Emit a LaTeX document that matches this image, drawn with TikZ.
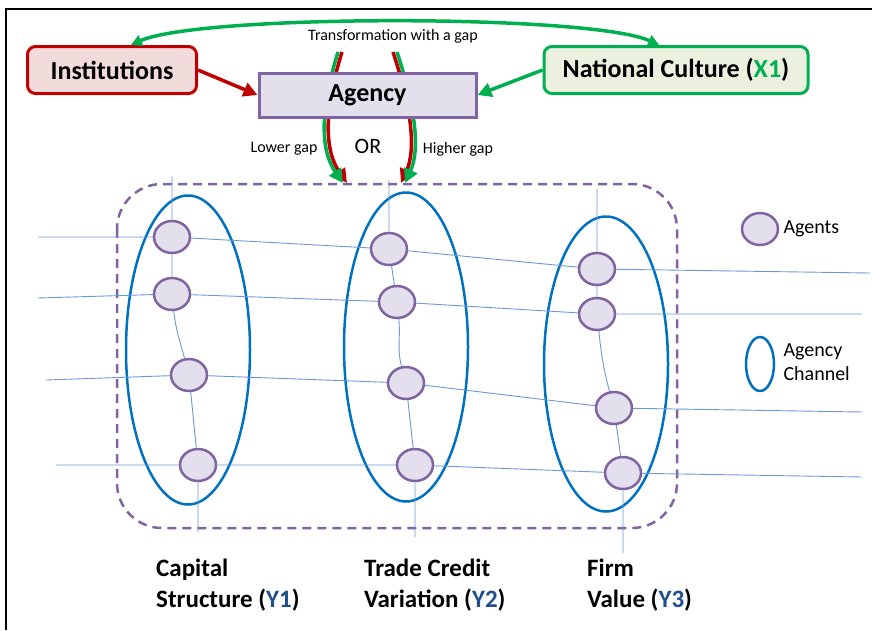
\documentclass[tikz,border=0pt]{standalone}
\usepackage{fontspec}
\setmainfont{Carlito}
\usetikzlibrary{shapes.geometric,arrows.meta}
\definecolor{instred}{HTML}{C00000}
\definecolor{instfill}{HTML}{F2DCDB}
\definecolor{cultgreen}{HTML}{00B050}
\definecolor{cultfill}{HTML}{EBF1DE}
\definecolor{agentline}{HTML}{8064A2}
\definecolor{agentfill}{HTML}{E4DFEC}
\definecolor{chanblue}{HTML}{0070C0}
\definecolor{thinblue}{HTML}{6A9AD6}
\definecolor{ylabel}{HTML}{1F4E8C}
\def \bigfont {\fontsize{26}{30}\selectfont\bfseries}
\def \smallfont {\fontsize{16}{19}\selectfont}
\tikzset{
  agent/.style={ellipse, draw=agentline, fill=agentfill, line width=2.5,
    minimum width=36, minimum height=32, inner sep=0},
  channel/.style={ellipse, draw=chanblue, line width=2.5,
    minimum width=124, minimum height=309, inner sep=0},
  thinline/.style={thinblue, line width=0.9},
  fatarrow/.style={line width=3.5, -{Triangle[length=14,width=14]}},
  bottomlabel/.style={anchor=north west, inner sep=0, align=left,
    font=\fontsize{25}{31}\selectfont\bfseries}
}

\begin{document}
\begin{tikzpicture}[x=1pt,y=-1pt]
\useasboundingbox (0,0) rectangle (872,630);
% Draw the outside frame
\draw[line width=2.5] (6,630) -- (6,9) -- (872,9);

% Draw the dashed box round the channels
\draw[agentline, line width=2.5, dash pattern=on 9 off 6, rounded corners=45]
  (117,184) rectangle (677,528);

% Draw the agency channels
\node[channel] (ch1) at (188,350) {};
\node[channel] (ch2) at (406,347) {};
\node[channel, minimum height=295] (ch3) at (606,364) {};

% Draw the agents, column by column
\foreach \n/\p in {c1r1/{172,237}, c1r2/{172,294}, c1r3/{189,375}, c1r4/{198,465},
                   c2r1/{389,249}, c2r2/{397,302}, c2r3/{406,383}, c2r4/{415,465},
                   c3r1/{597,269}, c3r2/{597,314}, c3r3/{614,408}, c3r4/{623,473}}
  \node[agent] (\n) at (\p) {};

% Free ends of the thin lines
\coordinate (l1) at (38,237);  \coordinate (e1) at (870,273);
\coordinate (l2) at (38,298);  \coordinate (e2) at (862,314);
\coordinate (l3) at (46,380);  \coordinate (e3) at (862,412);
\coordinate (l4) at (56,465);  \coordinate (e4) at (862,477);
\coordinate (t1) at (172,176); \coordinate (b1) at (198,532);
\coordinate (t2) at (389,180); \coordinate (b2) at (415,537);
\coordinate (t3) at (597,189); \coordinate (b3) at (623,553);

% Draw the rows
\foreach \r in {1,...,4}
  \draw[thinline] (l\r) -- (c1r\r) -- (c2r\r) -- (c3r\r) -- (e\r);
% Draw the columns
\foreach \c in {1,2,3}
  \draw[thinline] (t\c) -- (c\c r1) -- (c\c r2) to[out=-84,in=105] (c\c r3) -- (c\c r4) -- (b\c);

% Draw the two gap arrows (behind the agency box)
\coordinate (lowtop) at (340,52);  \coordinate (lowtip) at (345,183);
\coordinate (hightop) at (395,52); \coordinate (hightip) at (403,183);
\foreach \d/\c in {2/instred,-2/cultgreen}
  \draw[fatarrow, \c, transform canvas={xshift=\d pt}]
    (lowtop) .. controls +(-18,58) and +(-23,-33) .. (lowtip);
\foreach \d/\c in {-2/instred,2/cultgreen}
  \draw[fatarrow, \c, transform canvas={xshift=\d pt}]
    (hightop) .. controls +(19,58) and +(15,-33) .. (hightip);

% Draw the top boxes
\node[draw=instred, fill=instfill, line width=3, rounded corners=8,
  minimum width=169, minimum height=47, font=\bigfont] (inst) at (112,70) {Institutions};
\node[draw=cultgreen, fill=cultfill, line width=3, rounded corners=8,
  minimum width=264, minimum height=47, font=\bigfont] (natc) at (676,70)
  {National Culture (\textcolor{cultgreen}{X1})};
\node[draw=agentline, fill=agentfill, line width=3,
  minimum width=217, minimum height=44, font=\bigfont] (agency) at (367.5,95) {Agency};

% Draw the arrows between the top boxes
\draw[cultgreen, line width=3.5, {Triangle[length=11,width=11]}-{Triangle[length=11,width=11]}]
  (inst.53) .. controls (200,14) and (590,14) .. (natc.124);
\draw[fatarrow, instred] (inst.east) -- (agency.west);
\draw[fatarrow, cultgreen] (natc.west) -- (agency.east);

% Texts round the agency box
\node[font=\smallfont] (trans) at (393,36) {Transformation with a gap};
\node[font=\smallfont] (lowgap) at (284,149) {Lower gap};
\node[font=\fontsize{22}{26}\selectfont] (or) at (368,146) {OR};
\node[font=\smallfont] (highgap) at (458,149) {Higher gap};

% Draw the legend
\node[agent] (legagent) at (760,229) {};
\node[anchor=west, font=\fontsize{20}{24}\selectfont] (legagenttext) at (780,229) {Agents};
\node[ellipse, draw=chanblue, line width=2.5, minimum width=28, minimum height=54,
  inner sep=0] (legchan) at (760,364) {};
\node[anchor=west, align=left, font=\fontsize{20}{24}\selectfont] (legchantext) at (780,362)
  {Agency\\Channel};

% Draw the channel names
\node[bottomlabel] (y1) at (156,559) {Capital\\Structure (\textcolor{ylabel}{Y1})};
\node[bottomlabel] (y2) at (364,559) {Trade Credit\\Variation (\textcolor{ylabel}{Y2})};
\node[bottomlabel] (y3) at (587,559) {Firm\\Value (\textcolor{ylabel}{Y3})};
\end{tikzpicture}
\end{document}
